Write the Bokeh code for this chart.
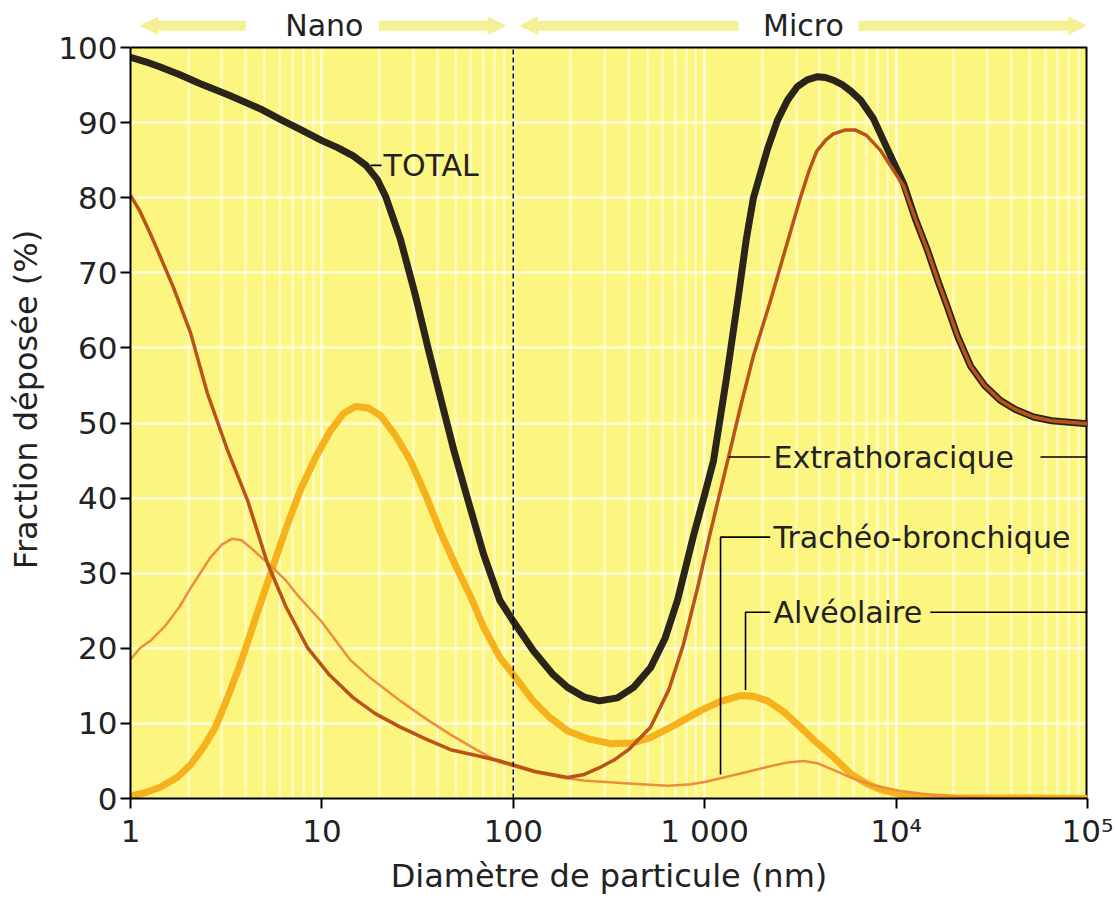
import numpy as np
from bokeh.plotting import figure
from bokeh.models import Range1d, FixedTicker, Span, Arrow, NormalHead, BoxAnnotation
from bokeh.core.properties import value
from bokeh.embed import file_html
from bokeh.resources import INLINE

# ---------------- data (particle diameter in nm, deposited fraction in %) ----------------
total_d = [1, 1.2, 1.43, 1.8, 2.3, 3.3, 4.8, 6.2, 7.7, 10, 12, 14.5, 17, 19.5, 21.5, 25.7, 30.8, 36,
           41.7, 49, 58.3, 70, 85, 100, 127, 160, 192, 235, 282, 350, 425, 521, 620, 721, 874, 1000,
           1112, 1300, 1502, 1650, 1798, 2130, 2400, 2710, 3050, 3430, 3850, 4276, 4750, 5200, 5800,
           6520, 7620, 9000, 10930, 12600, 14590, 16500, 18570, 21000, 24480, 29000, 35090, 42000,
           52200, 65000, 80000, 100000]
total_v = [98.7, 98.1, 97.4, 96.4, 95.2, 93.6, 91.8, 90.3, 89.1, 87.6, 86.7, 85.6, 84.3, 82.4, 80.2,
           74.5, 67, 59.8, 53.3, 46.3, 39.5, 32.5, 26.4, 23.6, 19.7, 16.6, 14.8, 13.5, 13.0, 13.4, 14.8,
           17.4, 21.3, 26.4, 35, 40.5, 45, 56, 67, 74.5, 80, 86.5, 90.3, 93, 94.8, 95.7, 96.1, 96, 95.6,
           95.1, 94.2, 93, 90.5, 86.5, 81.9, 77.2, 73, 69, 65.4, 61.5, 57.6, 55, 53, 51.8, 50.8, 50.3,
           50.1, 49.9]

extra_d = [1, 1.12, 1.27, 1.45, 1.68, 2.06, 2.52, 3.2, 4.09, 5.2, 6.5, 8.4, 11, 14.6, 19, 25.7, 35, 47,
           65, 85, 130, 192, 235, 282, 340, 400, 521, 650, 774, 917, 1072, 1310, 1550, 1800, 2208,
           2700, 3160, 3500, 3850, 4300, 4700, 5400, 6140, 7000, 8290, 9500, 10930, 12600, 14590,
           16500, 18570, 21000, 24480, 29000, 35090, 42000, 52200, 65000, 80000, 100000]
extra_v = [80.3, 78.2, 75.2, 71.8, 68, 62, 54, 46.5, 39.7, 31.3, 25.5, 20.1, 16.4, 13.4, 11.3, 9.5,
           7.9, 6.5, 5.7, 5.0, 3.6, 2.8, 3.2, 4.1, 5.2, 6.5, 9.5, 14.5, 20.5, 28, 35.5, 44.7, 52.5, 59,
           66.3, 74, 80, 83.5, 86.2, 87.7, 88.5, 89, 89, 88.3, 86.3, 84, 81.6, 77.2, 73, 69, 65.4,
           61.5, 57.6, 55, 53, 51.8, 50.8, 50.3, 50.1, 49.9]

trach_d = [1, 1.12, 1.27, 1.52, 1.8, 2.06, 2.6, 3.0, 3.4, 3.8, 4.2, 5.4, 6.5, 7.5, 10, 14, 18, 25.7,
           35, 47, 65, 85, 130, 180, 232, 400, 640, 850, 1000, 1210, 1700, 2200, 2700, 3300, 3870,
           4700, 5780, 7500, 10500, 15000, 19000, 30000, 100000]
trach_v = [18.5, 20, 21, 23, 25.5, 28, 32, 33.8, 34.6, 34.4, 33.5, 31, 29, 27, 23.5, 18.5, 16, 13,
           10.6, 8.5, 6.4, 4.8, 3.5, 2.8, 2.4, 2.0, 1.7, 1.9, 2.2, 2.7, 3.6, 4.3, 4.8, 5.0, 4.7,
           3.8, 2.8, 1.8, 1.0, 0.5, 0.3, 0.1, 0]

alv_d = [1, 1.2, 1.43, 1.75, 2.06, 2.4, 2.78, 3.2, 3.76, 4.5, 5.4, 6.5, 7.7, 9.3, 11.1, 13, 15, 17.5,
         20.2, 24, 29, 35, 41.6, 50, 59.5, 70, 85, 100, 127, 155, 192, 250, 322, 420, 521, 700, 951,
         1200, 1538, 1800, 2130, 2600, 3163, 3900, 4710, 5780, 7000, 8290, 10500, 13400, 20000,
         100000]
alv_v = [0.3, 0.8, 1.5, 2.8, 4.5, 6.8, 9.5, 13.3, 18, 24, 30, 36, 41, 45.5, 49, 51.3, 52.2, 52, 51,
         48.5, 45, 40.3, 35.5, 31, 27, 22.8, 18.8, 16.5, 13, 10.8, 9, 7.9, 7.3, 7.4, 8.1, 9.8, 11.7,
         12.9, 13.7, 13.6, 13, 11.5, 9.5, 7.3, 5.5, 3.3, 2.0, 1.2, 0.6, 0.3, 0.1, 0]

x_ticks = [1, 10, 100, 1000, 10000, 100000]
x_tick_labels = ["1", "10", "100", "1 000", "10\u2074", "10\u2075"]
y_ticks = list(range(0, 101, 10))
region_names = ["Nano", "Micro"]
series_names = ["TOTAL", "Extrathoracique", "Trachéo-bronchique", "Alvéolaire"]

X_MIN, X_MAX = 1, 100000
Y_MIN, Y_MAX = 0, 100
Y_TOP = 106.26          # room above the plot area for the Nano / Micro arrows

FONT = "DejaVu Sans"
TXT = "#222222"
BG = "#fcf680"
C_TOTAL = "#2b2419"
C_EXTRA = "#b9531b"
C_TRACH = "#ec8e3c"
C_ALV = "#f6b21c"
C_ARROW = "#f3f193"


def at(xs, ys, x):
    return float(np.interp(np.log10(x), np.log10(xs), ys))


p = figure(width=1115, height=898, x_axis_type="log", x_range=Range1d(X_MIN, X_MAX),
           y_range=Range1d(Y_MIN, Y_TOP), toolbar_location=None, output_backend="svg",
           min_border_left=130, min_border_right=28, min_border_top=0, min_border_bottom=100)
p.background_fill_color = "white"
p.border_fill_color = "white"
p.outline_line_color = None

# yellow plot area (below the grid)
p.add_layout(BoxAnnotation(left=X_MIN, right=X_MAX, bottom=Y_MIN, top=Y_MAX, level="image",
                           fill_color=BG, fill_alpha=1.0, line_color=None))

minor = [m * 10 ** k for k in range(5) for m in range(2, 10)]
xt = FixedTicker(ticks=x_ticks, minor_ticks=minor)
yt = FixedTicker(ticks=y_ticks)
p.xaxis.ticker = xt
p.yaxis.ticker = yt
p.xgrid.ticker = FixedTicker(ticks=x_ticks[:-1], minor_ticks=minor)
p.ygrid.ticker = FixedTicker(ticks=y_ticks[:-1])
p.xaxis.major_label_overrides = {t: l for t, l in zip(x_ticks, x_tick_labels)}
p.yaxis.bounds = (Y_MIN, Y_MAX)

for ax in (p.xaxis[0], p.yaxis[0]):
    ax.axis_line_color = "black"
    ax.axis_line_width = 2
    ax.major_tick_line_color = "black"
    ax.major_tick_line_width = 2
    ax.major_tick_out = 10
    ax.major_tick_in = 0
    ax.minor_tick_line_color = None
    ax.major_label_text_font = FONT
    ax.major_label_text_font_size = "31px"
    ax.major_label_text_color = TXT
    ax.axis_label_text_font = FONT
    ax.axis_label_text_font_size = "32px"
    ax.axis_label_text_font_style = "normal"
    ax.axis_label_text_color = TXT
p.xaxis.axis_label = "Diamètre de particule (nm)"
p.yaxis.axis_label = "Fraction déposée (%)"
p.xaxis.major_label_standoff = 4
p.yaxis.major_label_standoff = 3
p.xaxis.axis_label_standoff = 5
p.yaxis.axis_label_standoff = 10

p.xgrid.grid_line_color = "white"
p.xgrid.grid_line_alpha = 0.6
p.xgrid.grid_line_width = 3
p.xgrid.minor_grid_line_color = "white"
p.xgrid.minor_grid_line_alpha = 0.5
p.xgrid.minor_grid_line_width = 2.5
p.ygrid.grid_line_color = "white"
p.ygrid.grid_line_alpha = 0.6
p.ygrid.grid_line_width = 3

# frame border (top and right)
p.line([X_MIN, X_MAX], [Y_MAX, Y_MAX], line_color="black", line_width=2)
p.line([X_MAX, X_MAX], [Y_MIN, Y_MAX], line_color="black", line_width=4)

# curves
p.line(alv_d, alv_v, line_color=C_ALV, line_width=7, line_join="round", line_cap="round")
p.line(trach_d, trach_v, line_color=C_TRACH, line_width=2.5, line_join="round")
p.line(total_d, total_v, line_color=C_TOTAL, line_width=7, line_join="round", line_cap="round")
p.line(extra_d, extra_v, line_color=C_EXTRA, line_width=3.5, line_join="round")

# nano / micro boundary
p.line([100, 100], [Y_MIN, Y_MAX], line_color="black", line_width=1.5, line_dash="5 3")

# Nano / Micro arrows above the plot area
ya = 102.9
for (xs, xe) in [(4.0, 1.13), (19.8, 91), (1500, 109), (6370, 98000)]:
    p.add_layout(Arrow(x_start=xs, y_start=ya, x_end=xe, y_end=ya, line_color=C_ARROW,
                       line_width=10,
                       end=NormalHead(size=17, fill_color=C_ARROW, line_color=C_ARROW)))
p.text(x=[10.3, 3280], y=[ya, ya], text=region_names, text_font=value(FONT),
       text_font_size="30px", text_color=TXT, text_align="center", text_baseline="middle")

# annotations (leader lines attached to curves)
LC = "black"
LW = 1.6
tot_y = at(total_d, total_v, 17.0)
p.line([18.0, 20.5], [tot_y, tot_y], line_color=LC, line_width=LW)

ext_x0 = 1332
ext_y = at(extra_d, extra_v, ext_x0)
p.line([ext_x0, 2200], [ext_y, ext_y], line_color=LC, line_width=LW)
p.line([56800, X_MAX], [ext_y, ext_y], line_color=LC, line_width=LW)

tr_x0 = 1210
tr_y = 34.8
p.line([tr_x0, tr_x0, 2200], [at(trach_d, trach_v, tr_x0) + 0.5, tr_y, tr_y],
       line_color=LC, line_width=LW)

al_x0 = 1634
al_y = 24.8
p.line([al_x0, al_x0, 2200], [at(alv_d, alv_v, al_x0) + 0.8, al_y, al_y],
       line_color=LC, line_width=LW)
p.line([15100, X_MAX], [al_y, al_y], line_color=LC, line_width=LW)

p.text(x=[21.0, 2290, 2290, 2290], y=[tot_y, ext_y, tr_y, al_y], text=series_names,
       text_font=value(FONT), text_font_size="30px", text_color=TXT,
       text_align="left", text_baseline="middle")

open("out.html", "w").write(file_html(p, INLINE))
